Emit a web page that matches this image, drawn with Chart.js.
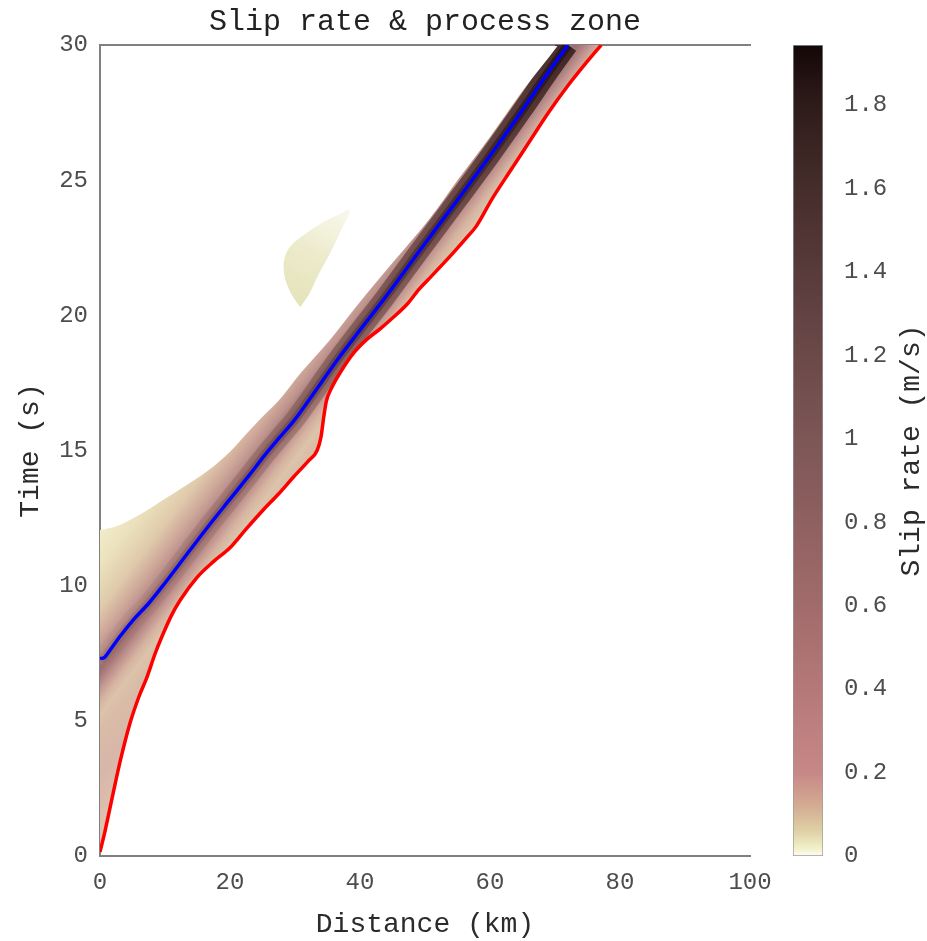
<!DOCTYPE html>
<html>
<head>
<meta charset="utf-8">
<title>Slip rate &amp; process zone</title>
<script src="https://cdn.jsdelivr.net/npm/chart.js@4.4.1/dist/chart.umd.min.js"></script>
<style>
  body { margin: 0; background: #ffffff; }
  #wrap { position: relative; width: 927px; height: 941px; }
  #wrap canvas { position: absolute; left: 0; top: 0; }
</style>
</head>
<body>
<div id="wrap">
  <canvas id="fieldChart" width="927" height="941"></canvas>
  <canvas id="barChart" width="927" height="941"></canvas>
</div>
<script>
// --- 1. DATA (distance in km, time in s) ---
// rupture front (blue)
const frontDist = [0, 0.7, 1.5, 3, 5, 7.5, 10, 13.8, 17, 20, 23, 25.6, 27.7, 30, 31.8, 34, 36.5, 39.5, 44, 49.2, 55.1, 60, 65, 69, 72];
const frontTime = [7.3, 7.35, 7.6, 8.1, 8.7, 9.35, 10.1, 11.3, 12.3, 13.2, 14.1, 14.9, 15.5, 16.15, 16.75, 17.5, 18.35, 19.3, 20.7, 22.4, 24.3, 25.9, 27.6, 29.0, 30.0];

// process zone edge (red)
const zoneDist = [0, 0.8, 2, 3.1, 4.6, 6, 7.2, 8.5, 9.5, 11, 12.3, 14.9, 17.5, 20, 22.5, 25.1, 27.5, 29.7, 32, 33.4, 34.0, 34.4, 34.8, 35.6, 37, 39, 41, 43.1, 45, 47.2, 49.2, 51, 54.3, 56.5, 57.9, 60.3, 63, 66, 69, 72, 75, 77.1];
const zoneTime = [0.15, 0.95, 2.3, 3.5, 4.9, 5.9, 6.6, 7.5, 8.1, 8.9, 9.45, 10.3, 10.9, 11.4, 12.1, 12.8, 13.4, 14.0, 14.6, 15.0, 15.5, 16.2, 16.8, 17.3, 17.9, 18.6, 19.1, 19.5, 19.9, 20.4, 21.0, 21.45, 22.3, 22.9, 23.3, 24.3, 25.3, 26.4, 27.5, 28.5, 29.4, 30.0];

// upper edge of the slipping region (where slip rate drops to ~0); last point lies above the frame
const tailDist = [0, 2.5, 4.6, 7, 9.7, 13.5, 17.4, 20, 22.6, 25, 27.5, 31, 35.4, 39, 43.1, 47, 50.8, 55, 60, 65, 70.5, 77.1];
const tailTime = [12.06, 12.2, 12.43, 12.75, 13.17, 13.75, 14.4, 14.95, 15.64, 16.25, 16.85, 17.9, 19.1, 20.2, 21.4, 22.5, 23.6, 25.0, 26.6, 28.3, 30.0, 32.2];

// small patch of low slip rate behind the front
const blobDist = [30.8, 29.2, 28.3, 28.5, 29.5, 31.5, 34.0, 36.5, 38.4, 37.2, 35.4, 33.6, 32.2, 30.8];
const blobTime = [20.3, 20.9, 21.6, 22.2, 22.6, 23.0, 23.4, 23.7, 23.9, 23.2, 22.3, 21.5, 20.8, 20.3];

const xTicks = [0, 20, 40, 60, 80, 100];
const yTicks = [0, 5, 10, 15, 20, 25, 30];
const cbTicks = [0, 0.2, 0.4, 0.6, 0.8, 1, 1.2, 1.4, 1.6, 1.8];
const cbMax = 1.944;

// colour map of the colorbar (value -> colour)
const cbValues = [0, 0.02, 0.06, 0.12, 0.2, 0.4, 0.6, 0.8, 1.0, 1.2, 1.4, 1.6, 1.8, 1.944];
const cbColors = ['#fdfdf4', '#f1efc6', '#e0d0a6', '#d3ac92', '#c78787', '#b57878', '#a26b6b', '#8f6060', '#7d5656', '#6b4949', '#583b3b', '#452d2b', '#2e1c1a', '#140707'];

// --- 2. GLOBAL STYLE ---
const FONT = "'Liberation Mono', 'DejaVu Sans Mono', monospace";
Chart.defaults.font.family = FONT;
Chart.defaults.color = '#4d4d4d';
const tickFont = { size: 24 };
const labelFont = { size: 28 };
const AXIS = '#808080';

const pts = (xs, ys) => xs.map((x, i) => ({ x: x, y: ys[i] }));

// shading across the band, offsets in px measured perpendicular to the front
const fieldShade = [
    [-90, '#f5f2d4'], [-55, '#ebe1bc'], [-30, '#dfcaab'], [-14, '#cfa99a'],
    [-4, '#bd928d'], [2, '#a87c7a'], [6, '#9a6e6e'], [11, '#a97b7b'],
    [18, '#c29590'], [26, '#d5b3a0'], [34, '#dcc3aa'], [45, '#d9bca8'],
    [70, '#d8b6a8'], [130, '#e2cbb6']
];

function fieldFill(ctx) {
    const chart = ctx.chart;
    const { chartArea, scales } = chart;
    if (!chartArea) return null;
    const n = frontDist.length - 1;
    const ax = scales.x.getPixelForValue(frontDist[0]), ay = scales.y.getPixelForValue(frontTime[0]);
    const bx = scales.x.getPixelForValue(frontDist[n]), by = scales.y.getPixelForValue(frontTime[n]);
    const len = Math.hypot(bx - ax, by - ay);
    const nx = -(by - ay) / len, ny = (bx - ax) / len;
    const lo = -90, hi = 130;
    const g = chart.ctx.createLinearGradient(ax + nx * lo, ay + ny * lo, ax + nx * hi, ay + ny * hi);
    fieldShade.forEach(([off, col]) => g.addColorStop((off - lo) / (hi - lo), col));
    return g;
}

// dark core along the front, darker later in time
function coreStroke(stops) {
    return ctx => {
        const chart = ctx.chart;
        const { chartArea, scales } = chart;
        if (!chartArea) return 'rgba(0,0,0,0)';
        const g = chart.ctx.createLinearGradient(0, scales.y.getPixelForValue(30), 0, scales.y.getPixelForValue(7));
        stops.forEach(([f, col]) => g.addColorStop(f, col));
        return g;
    };
}

// patch fades out towards its upper tip
function blobFill(ctx) {
    const chart = ctx.chart;
    const { chartArea, scales } = chart;
    if (!chartArea) return null;
    const g = chart.ctx.createLinearGradient(
        scales.x.getPixelForValue(blobDist[0]), scales.y.getPixelForValue(blobTime[0]),
        scales.x.getPixelForValue(blobDist[8]), scales.y.getPixelForValue(blobTime[8]));
    g.addColorStop(0, 'rgba(226,224,178,0.9)');
    g.addColorStop(0.5, 'rgba(230,228,186,0.75)');
    g.addColorStop(1, 'rgba(236,234,200,0.35)');
    return g;
}

// draw the core strokes only on top of the shaded field
const atopPlugin = {
    id: 'atop',
    beforeDatasetDraw(chart, args) {
        if (chart.data.datasets[args.index].atop) {
            chart.ctx.save();
            chart.ctx.globalCompositeOperation = 'source-atop';
        }
    },
    afterDatasetDraw(chart, args) {
        if (chart.data.datasets[args.index].atop) chart.ctx.restore();
    }
};

// --- 3. MAIN PLOT ---
new Chart(document.getElementById('fieldChart'), {
    type: 'line',
    data: {
        datasets: [
            { label: 'front', data: pts(frontDist, frontTime), borderColor: '#0000ff', borderWidth: 3.5, cubicInterpolationMode: 'monotone', clip: 0, order: 0 },
            { label: 'process zone', data: pts(zoneDist, zoneTime), borderColor: '#ff0000', borderWidth: 3.5, cubicInterpolationMode: 'monotone', clip: 0, order: 0 },
            { label: 'core wide', data: pts(frontDist, frontTime), atop: true, borderWidth: 20, cubicInterpolationMode: 'monotone',
              borderColor: coreStroke([[0, 'rgba(40,20,18,0.8)'], [0.4, 'rgba(85,52,50,0.55)'], [0.75, 'rgba(130,90,88,0.3)'], [1, 'rgba(160,120,110,0.1)']]), order: 2 },
            { label: 'core', data: pts(frontDist, frontTime), atop: true, borderWidth: 9, cubicInterpolationMode: 'monotone',
              borderColor: coreStroke([[0, 'rgba(25,10,10,0.6)'], [0.4, 'rgba(60,35,35,0.45)'], [1, 'rgba(120,80,80,0.15)']]), order: 1 },
            { label: 'tail edge', data: pts(tailDist, tailTime), borderWidth: 0, borderColor: 'rgba(0,0,0,0)', cubicInterpolationMode: 'monotone', fill: false, order: 4 },
            { label: 'slip field', data: pts(zoneDist, zoneTime), borderWidth: 0, cubicInterpolationMode: 'monotone', fill: 4, backgroundColor: fieldFill, order: 3 },
            { label: 'patch', data: pts(blobDist, blobTime), borderWidth: 0, tension: 0.4, fill: 'shape', backgroundColor: blobFill, order: 3 }
        ]
    },
    options: {
        responsive: false,
        animation: false,
        events: [],
        elements: { point: { radius: 0 } },
        layout: { padding: { left: 0, right: 177, top: 0, bottom: 0 } },
        plugins: { legend: { display: false }, tooltip: { enabled: false } },
        scales: {
            x: {
                type: 'linear', min: 0, max: 100,
                afterBuildTicks: s => { s.ticks = xTicks.map(v => ({ value: v })); },
                afterFit: s => { s.height = 85; },
                grid: { display: true, drawOnChartArea: false, drawTicks: false },
                border: { color: AXIS, width: 2 },
                ticks: { font: tickFont, padding: 12, maxRotation: 0 },
                title: { display: true, text: 'Distance (km)', font: labelFont, color: '#2b2b2b', padding: { top: 0, bottom: 0 } }
            },
            x2: {
                type: 'linear', axis: 'x', position: 'top', min: 0, max: 100,
                afterFit: s => { s.height = 45; },
                grid: { display: true, drawOnChartArea: false, drawTicks: false },
                border: { color: AXIS, width: 2 },
                ticks: { display: false },
                title: { display: true, text: 'Slip rate & process zone', font: { size: 30 }, color: '#222222', padding: { top: 4, bottom: 0 } }
            },
            y: {
                type: 'linear', min: 0, max: 30,
                afterBuildTicks: s => { s.ticks = yTicks.map(v => ({ value: v })); },
                afterFit: s => { s.width = 100; },
                grid: { display: true, drawOnChartArea: false, drawTicks: false },
                border: { color: AXIS, width: 2 },
                ticks: { font: tickFont, padding: 12 },
                title: { display: true, text: 'Time (s)', font: labelFont, color: '#2b2b2b', padding: { top: 14, bottom: 0 } }
            }
        }
    },
    plugins: [atopPlugin]
});

// --- 4. COLORBAR ---
function cbFill(ctx) {
    const chart = ctx.chart;
    const { chartArea, scales } = chart;
    if (!chartArea) return null;
    const g = chart.ctx.createLinearGradient(0, scales.y.getPixelForValue(0), 0, scales.y.getPixelForValue(cbMax));
    cbValues.forEach((v, i) => g.addColorStop(v / cbMax, cbColors[i]));
    return g;
}

const cbLabel = {
    id: 'cbLabel',
    afterDraw(chart) {
        const { ctx, chartArea } = chart;
        ctx.save();
        ctx.translate(chart.width - 15, (chartArea.top + chartArea.bottom) / 2);
        ctx.rotate(-Math.PI / 2);
        ctx.font = '28px ' + FONT;
        ctx.fillStyle = '#2b2b2b';
        ctx.textAlign = 'center';
        ctx.textBaseline = 'middle';
        ctx.fillText('Slip rate (m/s)', 0, 0);
        ctx.restore();
    }
};

new Chart(document.getElementById('barChart'), {
    type: 'bar',
    data: {
        labels: ['slip rate'],
        datasets: [{
            data: [[0, cbMax]],
            backgroundColor: cbFill,
            borderColor: '#9a9a9a',
            borderWidth: 1,
            borderSkipped: false,
            categoryPercentage: 1,
            barPercentage: 1
        }]
    },
    options: {
        responsive: false,
        animation: false,
        events: [],
        layout: { padding: { left: 793, right: 0, top: 45, bottom: 85 } },
        plugins: { legend: { display: false }, tooltip: { enabled: false } },
        scales: {
            x: { display: false },
            y: {
                position: 'right', min: 0, max: cbMax,
                afterBuildTicks: s => { s.ticks = cbTicks.map(v => ({ value: v })); },
                afterFit: s => { s.width = 104; },
                grid: { display: false },
                border: { display: false },
                ticks: { font: tickFont, padding: 13, callback: v => String(Math.round(v * 10) / 10) }
            }
        }
    },
    plugins: [cbLabel]
});
</script>
</body>
</html>
